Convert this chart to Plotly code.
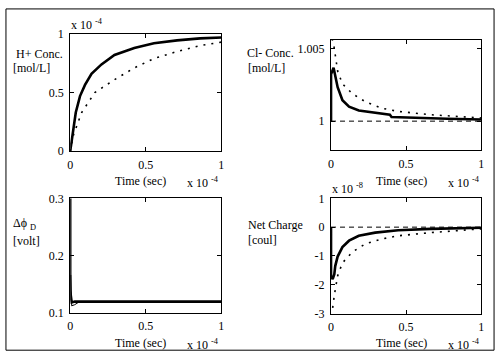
import plotly.graph_objects as go

W, H = 501, 362
FONT = "Liberation Serif, Times New Roman, DejaVu Serif, serif"

# ---------------- data (time in units of 1e-4 s) ----------------
h_t_solid = [0, 0.022, 0.037, 0.065, 0.098, 0.141, 0.207, 0.293, 0.424, 0.554, 0.707, 0.859, 1.0]
h_v_solid = [0, 0.19, 0.33, 0.47, 0.565, 0.66, 0.74, 0.82, 0.88, 0.92, 0.945, 0.962, 0.97]
h_t_dot = [0, 0.022, 0.076, 0.163, 0.293, 0.424, 0.554, 0.707, 0.859, 1.0]
h_v_dot = [0, 0.14, 0.33, 0.5, 0.61, 0.71, 0.79, 0.85, 0.9, 0.93]

cl_t_solid = [0, 0, 0.017, 0.028, 0.044, 0.076, 0.12, 0.185, 0.294, 0.392, 0.403, 0.556, 0.773, 1.0]
cl_v_solid = [1.0, 1.00322, 1.00367, 1.00311, 1.00233, 1.00144, 1.001, 1.00073, 1.00056, 1.00044, 1.00029, 1.00022, 1.00016, 1.00011]
cl_t_dot = [0.007, 0.022, 0.044, 0.076, 0.142, 0.229, 0.338, 0.447, 0.664, 0.882, 1.0]
cl_v_dot = [1.00567, 1.005, 1.00344, 1.00256, 1.00189, 1.00133, 1.00089, 1.00067, 1.00044, 1.00029, 1.00022]

phi_t_solid = [0, 0, 0.01, 0.03, 1.0]
phi_v_solid = [0.3, 0.138, 0.118, 0.1194, 0.1194]
phi_t_dot = [0.004, 0.01, 0.03, 0.06, 1.0]
phi_v_dot = [0.166, 0.112, 0.114, 0.119, 0.119]

q_t_solid = [0, 0, 0.011, 0.022, 0.028, 0.044, 0.076, 0.12, 0.185, 0.294, 0.447, 0.664, 1.0]
q_v_solid = [0, -1.69, -1.8, -1.63, -1.35, -1.02, -0.69, -0.47, -0.3, -0.19, -0.11, -0.06, -0.02]
q_t_dot = [0.011, 0.022, 0.044, 0.076, 0.142, 0.229, 0.338, 0.447, 0.664, 0.882, 1.0]
q_v_dot = [-2.8, -2.36, -1.69, -1.24, -0.86, -0.58, -0.41, -0.3, -0.19, -0.11, -0.06]

x_ticks = [0, 0.5, 1]
x_ticktext = ["0", "0.5", "1"]

# ---------------- helpers ----------------
def px(x):
    return x / W

def py(y):
    return 1 - y / H

SOLID = dict(color="black", width=2.6)
DOT = dict(color="black", width=1.6, dash="2px,6px")
DASH = dict(color="black", width=1, dash="5px,4px")

fig = go.Figure()

def add(xs, ys, line, n):
    ax = "" if n == 1 else str(n)
    fig.add_trace(go.Scatter(x=xs, y=ys, mode="lines", line=line,
                             xaxis="x" + ax, yaxis="y" + ax, showlegend=False,
                             hoverinfo="skip"))

add(h_t_dot, h_v_dot, DOT, 1)
add(h_t_solid, h_v_solid, SOLID, 1)

add([0, 1], [1, 1], DASH, 2)
add(cl_t_dot, cl_v_dot, DOT, 2)
add(cl_t_solid, cl_v_solid, SOLID, 2)

add(phi_t_dot, phi_v_dot, dict(color="black", width=1), 3)
add(phi_t_solid, phi_v_solid, SOLID, 3)

add([0, 1], [0, 0], DASH, 4)
add(q_t_dot, q_v_dot, DOT, 4)
add(q_t_solid, q_v_solid, SOLID, 4)

axis_common = dict(showline=True, mirror="ticks", linecolor="black", linewidth=1,
                   ticks="inside", ticklen=4, tickcolor="black", showgrid=False,
                   zeroline=False, tickfont=dict(family=FONT, size=12, color="black"))

boxes = {
    1: (68, 221, 28, 150),
    2: (332, 484, 34, 149),
    3: (68, 221, 199, 318),
    4: (332, 484, 199, 319),
}
yranges = {1: [0, 1], 2: [0.998, 1.0056], 3: [0.1, 0.3], 4: [-3, 1]}
yticks = {1: ([0, 0.5, 1], ["0", "0.5", "1"]),
          2: ([1, 1.005], ["1", "1.005"]),
          3: ([0.1, 0.2, 0.3], ["0.1", "0.2", "0.3"]),
          4: ([-3, -2, -1, 0, 1], ["-3", "-2", "-1", "0", "1"])}

lay = {}
for n, (x0, x1, y0, y1) in boxes.items():
    ax = "" if n == 1 else str(n)
    lay["xaxis" + ax] = dict(axis_common, domain=[px(x0), px(x1)], range=[0, 1],
                             anchor="y" + ax, tickvals=x_ticks, ticktext=x_ticktext,
                             ticklabelstandoff=2)
    lay["yaxis" + ax] = dict(axis_common, domain=[py(y1), py(y0)], range=yranges[n],
                             anchor="x" + ax, tickvals=yticks[n][0], ticktext=yticks[n][1],
                             ticklabelstandoff=3)

fig.update_layout(**lay)

annots = []
def text(x, y, s, xanchor="left", yanchor="middle"):
    annots.append(dict(x=px(x), y=py(y), xref="paper", yref="paper", text=s,
                       showarrow=False, xanchor=xanchor, yanchor=yanchor,
                       font=dict(family=FONT, size=12, color="black")))

# y-labels
text(11, 49, "H+ Conc.")
text(8, 63, "[mol/L]")
text(245, 48, "Cl- Conc.")
text(246, 63, "[mol/L]")
text(8, 226, "Δϕ <sub>D</sub>")
text(8, 243, "[volt]")
text(246, 227, "Net Charge")
text(246, 242, "[coul]")

# x-labels
for xl in (139, 403):
    text(xl, 181, "Time (sec)", xanchor="center")
    text(xl, 349, "Time (sec)", xanchor="center")
for xe in (184, 448):
    text(xe, 183, "x 10 <sup>-4</sup>")
    text(xe, 351, "x 10 <sup>-4</sup>")

# exponent labels above boxes
text(67, 18, "x 10 <sup>-4</sup>")
text(331, 189, "x 10 <sup>-8</sup>")

fig.update_layout(
    annotations=annots,
    width=W, height=H,
    margin=dict(l=0, r=0, t=0, b=0),
    paper_bgcolor="white", plot_bgcolor="white",
    showlegend=False,
    shapes=[dict(type="rect", xref="paper", yref="paper",
                 x0=px(3), x1=px(497), y0=py(357), y1=py(2),
                 line=dict(color="black", width=1), fillcolor="rgba(0,0,0,0)")],
)

fig.write_html("out.html", config={"displayModeBar": False},
               post_script="document.body.style.margin='0';document.body.style.padding='0';")
